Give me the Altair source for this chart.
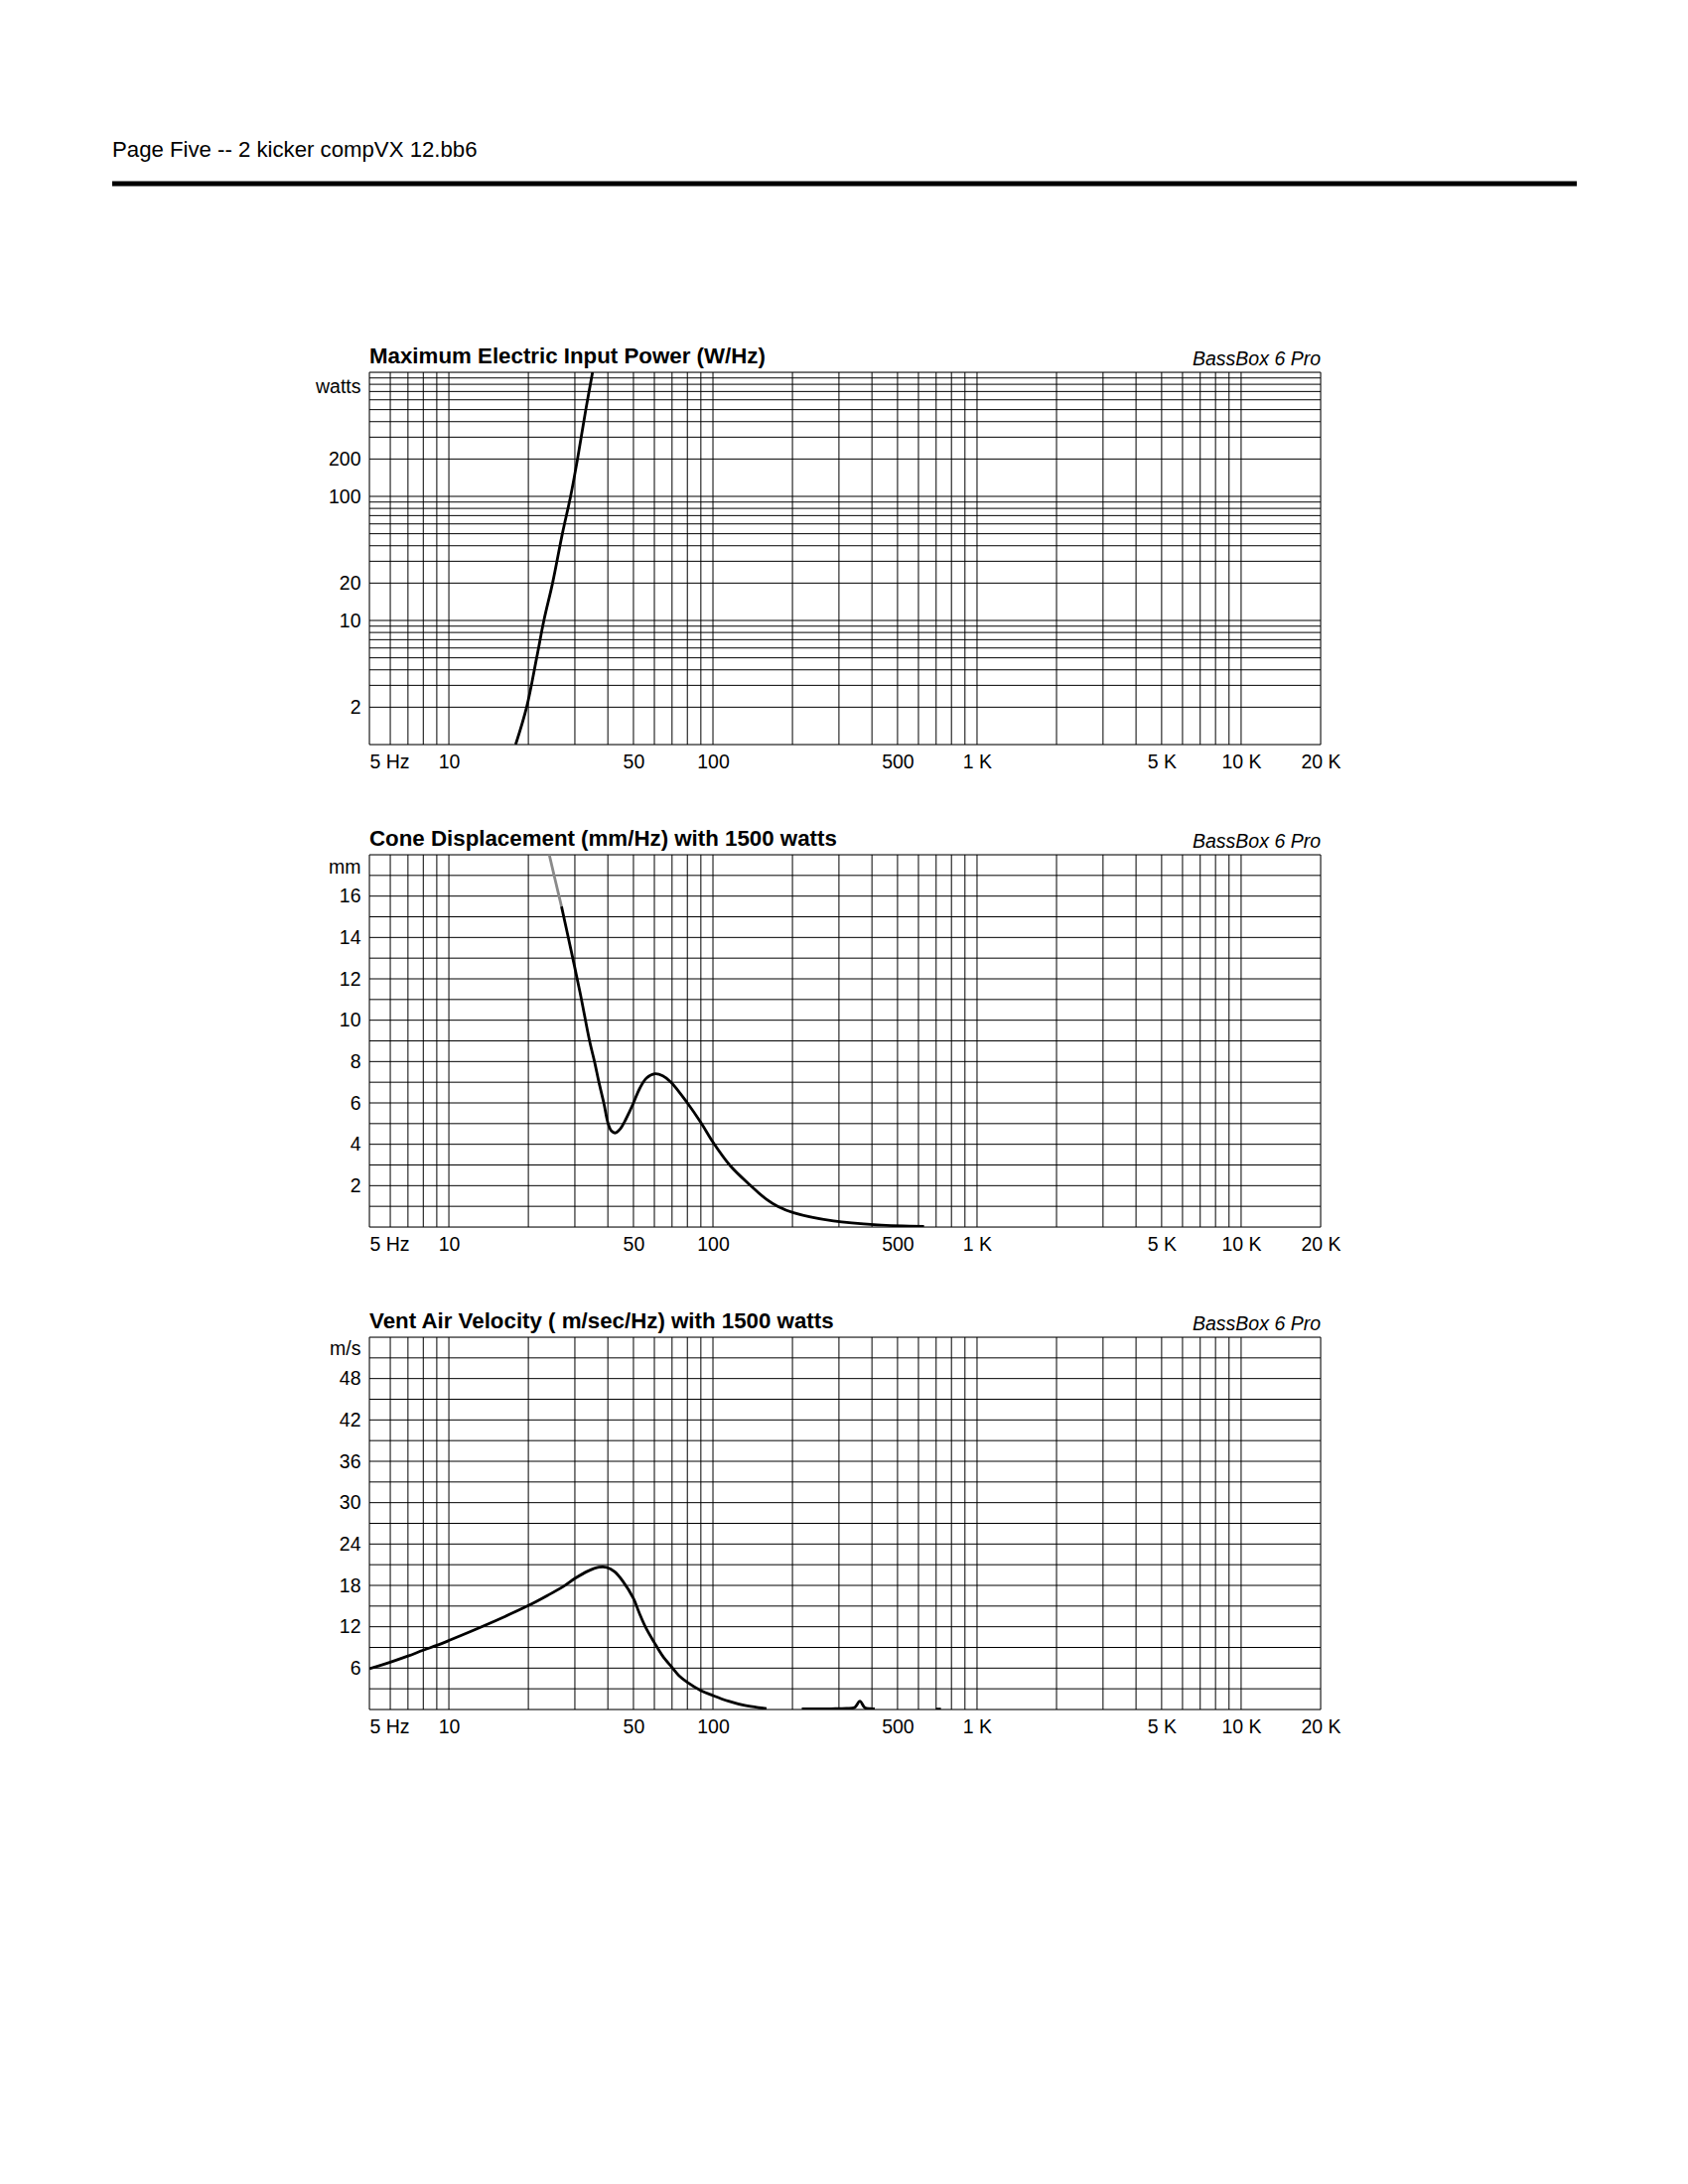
import altair as alt
import pandas as pd

FONT = "Liberation Sans, Arial, Helvetica, sans-serif"

# ---------------- text ----------------
header_text = "Page Five -- 2 kicker compVX 12.bb6"
brand_text = "BassBox 6 Pro"
title_power = "Maximum Electric Input Power (W/Hz)"
title_disp = "Cone Displacement (mm/Hz) with 1500 watts"
title_vent = "Vent Air Velocity ( m/sec/Hz) with 1500 watts"

# ---------------- x axis (frequency, log) ----------------
x_domain = [5, 20000]
x_tick_values = [5, 10, 50, 100, 500, 1000, 5000, 10000, 20000]
x_tick_labels = ["5 Hz", "10", "50", "100", "500", "1 K", "5 K", "10 K", "20 K"]
x_grid = [5, 6, 7, 8, 9,
          10, 20, 30, 40, 50, 60, 70, 80, 90,
          100, 200, 300, 400, 500, 600, 700, 800, 900,
          1000, 2000, 3000, 4000, 5000, 6000, 7000, 8000, 9000,
          10000, 20000]

# ---------------- panel 1: power (log y) ----------------
power_domain = [1, 1000]
power_grid = [1, 2, 3, 4, 5, 6, 7, 8, 9,
              10, 20, 30, 40, 50, 60, 70, 80, 90,
              100, 200, 300, 400, 500, 600, 700, 800, 900, 1000]
power_label_values = [2, 10, 20, 100, 200, 769]
power_label_texts = ["2", "10", "20", "100", "200", "watts"]
power_freq = [17.9, 19.7, 21.5, 22.9, 24.7, 26.9, 28.9, 30.7, 33.0, 35.0]
power_watts = [1, 2, 5, 10, 20, 50, 100, 200, 500, 1000]

# ---------------- panel 2: cone displacement ----------------
disp_domain = [0, 18]
disp_grid = list(range(0, 19))
disp_label_values = [2, 4, 6, 8, 10, 12, 14, 16, 17.4]
disp_label_texts = ["2", "4", "6", "8", "10", "12", "14", "16", "mm"]
disp_gray_freq = [24.0, 25.3, 26.7]
disp_gray_mm = [18.0, 16.75, 15.5]
disp_freq = [26.7, 29.0, 31.4, 34.1, 35.6, 37.0, 38.6, 40.1, 41.3, 42.7, 44.4,
             46.4, 48.4, 50.0, 52.9, 56.0, 60.3, 64.6, 69.4, 80.0, 90.0,
             100.0, 115.6, 137.5, 160.0, 176.0, 202.0, 286.0, 420.0, 630.0]
disp_mm = [15.5, 13.4, 11.33, 9.0, 8.0, 7.0, 6.0, 5.0, 4.64, 4.55, 4.72,
           5.12, 5.6, 6.0, 6.72, 7.2, 7.41, 7.31, 7.0, 6.0, 5.05,
           4.1, 3.0, 2.05, 1.33, 1.0, 0.69, 0.29, 0.10, 0.03]

# ---------------- panel 3: vent velocity ----------------
vent_domain = [0, 54]
vent_grid = list(range(0, 55, 3))
vent_label_values = [6, 12, 18, 24, 30, 36, 42, 48, 52.3]
vent_label_texts = ["6", "12", "18", "24", "30", "36", "42", "48", "m/s"]
vent_freq_a = [5.0, 6.0, 7.0, 8.0, 9.0, 10.0, 13.7, 20.0, 23.8, 27.4, 30.0,
               33.6, 37.0, 39.6, 42.4, 45.6, 50.0, 52.6, 55.7, 60.0, 64.4,
               70.0, 74.4, 80.0, 90.0, 100.0, 114.7, 132.0, 159.6]
vent_ms_a = [5.9, 6.86, 7.75, 8.6, 9.3, 10.0, 12.2, 15.07, 16.6, 17.95, 19.0,
             20.07, 20.64, 20.62, 20.0, 18.6, 16.1, 14.0, 11.86, 9.7, 7.8,
             6.1, 4.9, 3.94, 2.74, 2.02, 1.2, 0.58, 0.14]
vent_freq_b = [217, 280, 320, 344, 360, 376, 395, 410]
vent_ms_b = [0.08, 0.1, 0.15, 0.3, 1.2, 0.25, 0.12, 0.08]
vent_freq_c = [700, 730]
vent_ms_c = [0.05, 0.05]

W, H = 958, 375


def label_expr(values, texts):
    e = "''"
    for v, t in reversed(list(zip(values, texts))):
        e = f"datum.value == {v} ? '{t}' : ({e})"
    return e


def panel(title, ytype, ydomain, ygrid, lab_vals, lab_texts, lines, extra=None):
    xs = alt.Scale(type="log", domain=x_domain, nice=False)
    ys = alt.Scale(type=ytype, domain=ydomain, nice=False)
    x_axis = alt.Axis(values=x_tick_values,
                      labelExpr=label_expr(x_tick_values, x_tick_labels),
                      labelAlign={"expr": "datum.value == 5 ? 'left' : 'center'"},
                      labelFlush=False, labelOverlap=False, labelBound=False,
                      ticks=False, domain=False, grid=False, title=None,
                      labelPadding=8, labelFontSize=19.5, labelFont=FONT,
                      labelColor="black")
    y_axis = alt.Axis(values=lab_vals, labelExpr=label_expr(lab_vals, lab_texts),
                      labelOverlap=False, ticks=False, domain=False, grid=False,
                      title=None, labelPadding=9, labelFontSize=19.5,
                      labelFont=FONT, labelColor="black")

    vgrid = alt.Chart(pd.DataFrame({"f": x_grid})).mark_rule(
        color="black", strokeWidth=1).encode(
        x=alt.X("f:Q", scale=xs, axis=x_axis))
    hgrid = alt.Chart(pd.DataFrame({"v": ygrid})).mark_rule(
        color="black", strokeWidth=1).encode(
        y=alt.Y("v:Q", scale=ys, axis=y_axis))

    layers = [vgrid, hgrid]
    for df, color in lines:
        layers.append(
            alt.Chart(df).mark_line(color=color, strokeWidth=2.8,
                                    interpolate="catmull-rom", clip=True).encode(
                x=alt.X("f:Q", scale=xs, axis=x_axis),
                y=alt.Y("v:Q", scale=ys, axis=y_axis),
                detail="seg:N"))

    ttl = alt.Chart(pd.DataFrame({"t": [title]})).mark_text(
        align="left", baseline="alphabetic", fontSize=22.3, fontWeight="bold",
        font=FONT, color="black").encode(
        x=alt.value(0), y=alt.value(-9), text="t:N")
    brand = alt.Chart(pd.DataFrame({"t": [brand_text]})).mark_text(
        align="right", baseline="alphabetic", fontSize=19.5, fontStyle="italic",
        font=FONT, color="black").encode(
        x=alt.value(W), y=alt.value(-7), text="t:N")
    layers += [ttl, brand]
    if extra:
        layers += extra
    return alt.layer(*layers).properties(width=W, height=H)


def series(freqs, vals, seg="a"):
    return pd.DataFrame({"f": freqs, "v": vals, "seg": [seg] * len(freqs)})


hdr_text = alt.Chart(pd.DataFrame({"t": [header_text]})).mark_text(
    align="left", baseline="alphabetic", fontSize=22.2, font=FONT,
    color="black").encode(x=alt.value(-259), y=alt.value(-217), text="t:N")
hdr_rule = alt.Chart(pd.DataFrame({"t": [0]})).mark_rule(
    color="black", strokeWidth=5).encode(
    x=alt.value(-259), x2=alt.value(1216), y=alt.value(-190))

p1 = panel(title_power, "log", power_domain, power_grid,
           power_label_values, power_label_texts,
           [(series(power_freq, power_watts), "black")],
           extra=[hdr_text, hdr_rule])
p2 = panel(title_disp, "linear", disp_domain, disp_grid,
           disp_label_values, disp_label_texts,
           [(series(disp_gray_freq, disp_gray_mm), "#8a8a8a"),
            (series(disp_freq, disp_mm), "black")])
p3 = panel(title_vent, "linear", vent_domain, vent_grid,
           vent_label_values, vent_label_texts,
           [(pd.concat([series(vent_freq_a, vent_ms_a, "a"),
                        series(vent_freq_b, vent_ms_b, "b"),
                        series(vent_freq_c, vent_ms_c, "c")]), "black")])

chart = alt.vconcat(p1, p2, p3, spacing=56).properties(
    padding={"left": 102, "top": 131, "right": 10, "bottom": 10}
).configure_view(stroke="black", strokeWidth=2.5).configure(
    background="white")

chart.save("out.html", embed_options={"renderer": "svg", "actions": False})
